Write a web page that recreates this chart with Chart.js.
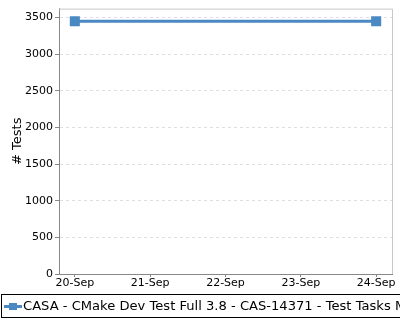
<!DOCTYPE html>
<html>
<head>
<meta charset="utf-8">
<script src="https://cdn.jsdelivr.net/npm/chart.js@4"></script>
<style>
  html, body { margin: 0; padding: 0; background: #fff; }
  #wrap { width: 400px; height: 320px; position: relative; }
</style>
</head>
<body>
<div id="wrap"><canvas id="testsChart" width="400" height="320"></canvas></div>
<script>
// Data
const dates = ['20-Sep', '21-Sep', '22-Sep', '23-Sep', '24-Sep'];
const pointIndex = [0, 4];
const testCounts = [3450, 3450];
const seriesName = 'CASA - CMake Dev Test Full 3.8 - CAS-14371 - Test Tasks Mac OS X 10.12';
const yTicks = [0, 500, 1000, 1500, 2000, 2500, 3000, 3500];

const FONT = 'DejaVu Sans';

// plot frame + legend box, drawn like the original
const framePlugin = {
    id: 'frame',
    beforeDatasetsDraw(chart) {
        const a = chart.chartArea;
        const c = chart.ctx;
        c.save();
        c.strokeStyle = '#c8c8c8';
        c.lineWidth = 1;
        c.beginPath();
        c.moveTo(a.left, a.top + 0.5);
        c.lineTo(a.right + 0.5, a.top + 0.5);
        c.lineTo(a.right + 0.5, a.bottom);
        c.stroke();
        c.restore();
    },
    afterDraw(chart) {
        const c = chart.ctx;
        const ds = chart.data.datasets[0];
        c.save();
        c.strokeStyle = '#000';
        c.lineWidth = 1;
        c.strokeRect(1.5, 294.5, 420, 23);
        c.strokeStyle = ds.borderColor;
        c.lineWidth = 3;
        c.beginPath();
        c.moveTo(4, 306.5);
        c.lineTo(22, 306.5);
        c.stroke();
        c.fillStyle = ds.borderColor;
        c.fillRect(9, 303, 8, 7);
        c.fillStyle = '#000';
        c.font = '13.1px "' + FONT + '"';
        c.textBaseline = 'middle';
        c.fillText(ds.label, 23, 306.5);
        c.restore();
    }
};

const ctx = document.getElementById('testsChart').getContext('2d');
const testsChart = new Chart(ctx, {
    type: 'line',
    data: {
        datasets: [{
            label: seriesName,
            data: pointIndex.map((x, i) => ({ x: x, y: testCounts[i] })),
            borderColor: '#4a89c2',
            backgroundColor: '#4a89c2',
            borderWidth: 3,
            pointStyle: 'rect',
            pointRadius: 5,
            pointHoverRadius: 5,
            fill: false,
            tension: 0
        }]
    },
    options: {
        responsive: false,
        animation: false,
        layout: { padding: { top: 6, right: 8, bottom: 30, left: 0 } },
        plugins: {
            legend: { display: false },
            tooltip: { enabled: false }
        },
        scales: {
            x: {
                type: 'linear',
                min: -0.21,
                max: 4.21,
                afterBuildTicks: (scale) => {
                    scale.ticks = dates.map((d, i) => ({ value: i }));
                },
                afterFit: (scale) => { scale.height = 16; },
                ticks: {
                    callback: (v) => dates[v],
                    color: '#000',
                    font: { family: FONT, size: 11 },
                    padding: 0,
                    maxRotation: 0,
                    autoSkip: false
                },
                grid: {
                    drawOnChartArea: false,
                    drawTicks: true,
                    tickLength: 3,
                    tickColor: '#888'
                },
                border: { color: '#888', width: 1 }
            },
            y: {
                min: 0,
                max: 3622,
                afterBuildTicks: (scale) => {
                    scale.ticks = yTicks.map(v => ({ value: v }));
                },
                afterFit: (scale) => { scale.width = 59; },
                title: {
                    display: true,
                    text: '# Tests',
                    color: '#000',
                    font: { family: FONT, size: 13 },
                    padding: { top: 10, bottom: 0 }
                },
                ticks: {
                    callback: (v) => String(v),
                    color: '#000',
                    font: { family: FONT, size: 11 },
                    padding: 2
                },
                grid: {
                    color: '#dedede',
                    tickColor: '#888',
                    tickLength: 4,
                    lineWidth: 1
                },
                border: { color: '#888', width: 1, dash: [3, 3] }
            }
        }
    },
    plugins: [framePlugin]
});
</script>
</body>
</html>
